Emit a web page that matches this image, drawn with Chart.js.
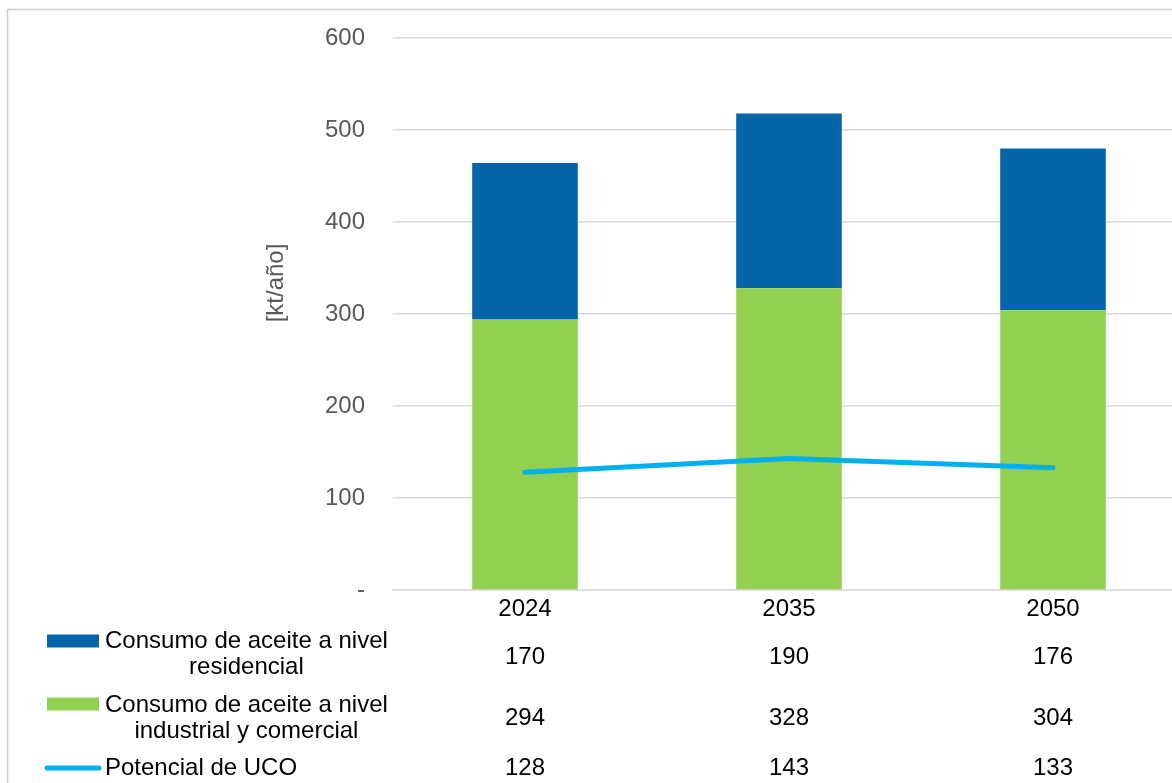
<!DOCTYPE html>
<html lang="es">
<head>
<meta charset="utf-8">
<title>Consumo de aceite y potencial de UCO</title>
<script src="https://cdn.jsdelivr.net/npm/chart.js@4"></script>
<style>
  html, body { margin: 0; padding: 0; background: #fff; overflow: hidden; }
  #wrap { width: 1172px; height: 783px; overflow: hidden; }
  canvas { display: block; }
</style>
</head>
<body>
<div id="wrap"><canvas id="ucoChart" width="1190" height="783"></canvas></div>
<script>
/* ===== DATA ===== */
const years = ['2024', '2035', '2050'];
const residencial = [170, 190, 176];
const industrial = [294, 328, 304];
const potencialUCO = [128, 143, 133];
const yTicks = [0, 100, 200, 300, 400, 500, 600];

const BLUE = '#0565a8';
const GREEN = '#92d050';
const CYAN = '#00b0f0';
const GRID = '#d9d9d9';
const AXIS_TXT = '#595959';
const FONT = "'Liberation Sans', Arial, sans-serif";

/* ===== FRAME, AXIS TITLE AND DATA TABLE ===== */
const tablePlugin = {
  id: 'dataTable',
  afterDraw(chart) {
    const ctx = chart.ctx;
    const x = chart.scales.x;
    ctx.save();

    // outer frame
    ctx.strokeStyle = '#cfcfcf';
    ctx.lineWidth = 1.5;
    ctx.beginPath();
    ctx.moveTo(7.5, chart.height + 5);
    ctx.lineTo(7.5, 9.5);
    ctx.lineTo(chart.width + 5, 9.5);
    ctx.stroke();

    // y axis title
    ctx.fillStyle = AXIS_TXT;
    ctx.font = '24px ' + FONT;
    ctx.textAlign = 'center';
    ctx.textBaseline = 'middle';
    ctx.save();
    ctx.translate(276, 283);
    ctx.rotate(-Math.PI / 2);
    ctx.fillText('[kt/año]', 0, 0);
    ctx.restore();

    // table rows: key, label lines, values
    const rows = [
      { type: 'bar', color: BLUE, lines: ['Consumo de aceite a nivel', 'residencial'], keyY: 641, textY: [641, 667], valY: 657, values: residencial },
      { type: 'bar', color: GREEN, lines: ['Consumo de aceite a nivel', 'industrial y comercial'], keyY: 704, textY: [705, 731], valY: 718, values: industrial },
      { type: 'line', color: CYAN, lines: ['Potencial de UCO'], keyY: 768, textY: [768], valY: 768, values: potencialUCO }
    ];

    ctx.font = '24px ' + FONT;
    rows.forEach(r => {
      if (r.type === 'bar') {
        ctx.fillStyle = r.color;
        ctx.fillRect(47, r.keyY - 6.5, 52, 13);
      } else {
        ctx.strokeStyle = r.color;
        ctx.lineWidth = 5;
        ctx.lineCap = 'round';
        ctx.beginPath();
        ctx.moveTo(47, r.keyY);
        ctx.lineTo(99, r.keyY);
        ctx.stroke();
      }
      ctx.fillStyle = '#000';
      ctx.textBaseline = 'middle';
      if (r.lines.length > 1) {
        const w = ctx.measureText(r.lines[0]).width;
        ctx.textAlign = 'center';
        r.lines.forEach((t, i) => ctx.fillText(t, 105 + w / 2, r.textY[i]));
      } else {
        ctx.textAlign = 'left';
        ctx.fillText(r.lines[0], 105, r.textY[0]);
      }
      ctx.textAlign = 'center';
      r.values.forEach((v, i) => ctx.fillText(String(v), x.getPixelForValue(i), r.valY));
    });
    ctx.restore();
  }
};

/* ===== CHART ===== */
new Chart(document.getElementById('ucoChart'), {
  data: {
    labels: years,
    datasets: [
      {
        type: 'line',
        label: 'Potencial de UCO',
        data: potencialUCO,
        stack: 'uco',
        borderColor: CYAN,
        borderWidth: 5,
        borderCapStyle: 'round',
        pointRadius: 0,
        tension: 0,
        order: 0
      },
      {
        type: 'bar',
        label: 'Consumo de aceite a nivel industrial y comercial',
        data: industrial,
        stack: 'consumo',
        backgroundColor: GREEN,
        barPercentage: 0.4,
        categoryPercentage: 1,
        order: 1
      },
      {
        type: 'bar',
        label: 'Consumo de aceite a nivel residencial',
        data: residencial,
        stack: 'consumo',
        backgroundColor: BLUE,
        barPercentage: 0.4,
        categoryPercentage: 1,
        order: 2
      }
    ]
  },
  options: {
    responsive: false,
    animation: false,
    events: [],
    layout: { padding: { top: 38, right: 5, left: 0, bottom: 0 } },
    plugins: { legend: { display: false }, tooltip: { enabled: false } },
    scales: {
      x: {
        stacked: true,
        grid: { display: false },
        border: { color: GRID, width: 1.5 },
        ticks: { color: '#000', font: { family: FONT, size: 24 }, padding: -3 },
        afterFit: s => { s.height = 193; }
      },
      y: {
        stacked: true,
        min: yTicks[0],
        max: yTicks[yTicks.length - 1],
        afterBuildTicks: s => { s.ticks = yTicks.map(v => ({ value: v })); },
        grid: { color: GRID, lineWidth: 1.5, drawTicks: false },
        border: { display: false },
        ticks: {
          color: AXIS_TXT,
          font: { family: FONT, size: 24 },
          padding: 28,
          callback: v => v === 0 ? '-' : v
        },
        afterFit: s => { s.width = 393; s.paddingTop = 0; s.paddingBottom = 0; }
      }
    }
  },
  plugins: [tablePlugin]
});
</script>
</body>
</html>
